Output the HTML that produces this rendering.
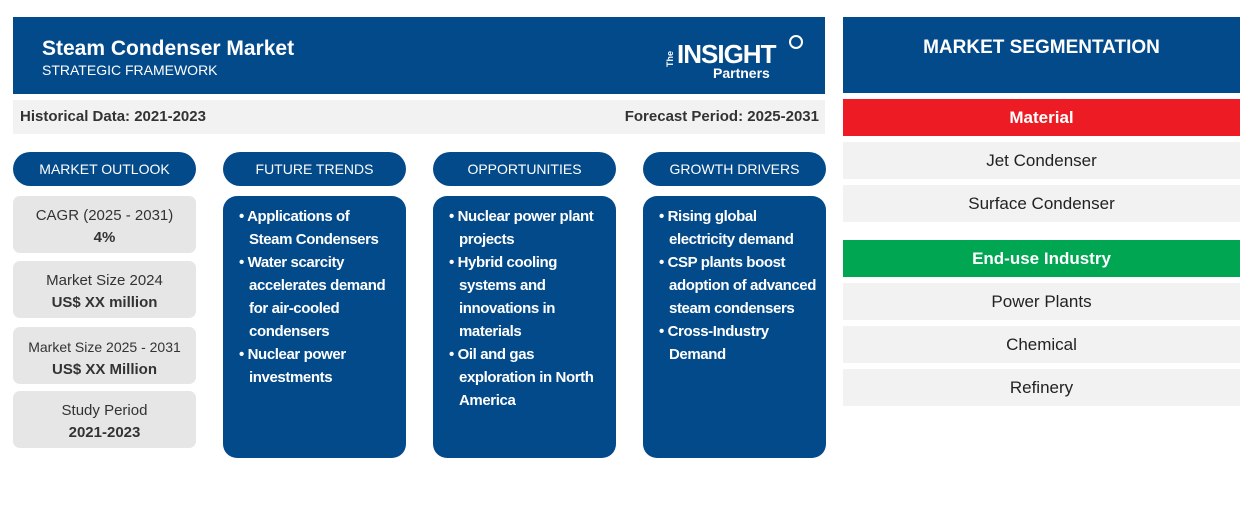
<!DOCTYPE html><html><head><style>
body{margin:0;width:1254px;height:530px;background:#fff;font-family:"Liberation Sans",sans-serif;position:relative;overflow:hidden}
div{position:absolute;box-sizing:border-box}
.blue{background:#034a8a;color:#fff}
.pill{height:34px;top:152px;width:183px;border-radius:17px;text-align:center;line-height:34px;font-size:14px}
.ob{left:13px;width:183px;height:57px;background:#e6e6e6;border-radius:7px;text-align:center;font-size:15px;color:#333;padding-top:9px;line-height:22px}
.ob b{font-size:15px}
.bb{top:196px;width:183px;height:262px;border-radius:14px;font-size:15px;font-weight:bold;letter-spacing:-0.4px;line-height:23px;padding:9px 8px 0 16px}
.bb ul{margin:0;padding:0 0 0 10px;list-style:none}
.bb li{text-indent:-10px}
.bb li:before{content:"• "}
.seg{left:843px;width:397px;height:37px;text-align:center;line-height:37px;font-size:17px;color:#222;background:#f2f2f2}
</style></head><body>
<div class="blue" style="left:13px;top:17px;width:812px;height:77px">
<div style="left:29px;top:20px;font-size:21px;font-weight:bold">Steam Condenser Market</div>
<div style="left:29px;top:45px;font-size:14px">STRATEGIC FRAMEWORK</div>
<div style="left:652px;top:20px;width:140px;height:45px">
<div style="left:0;font-size:9px;font-weight:bold;transform:rotate(-90deg);transform-origin:left top;top:30px">The</div>
<div style="left:12px;top:2px;font-size:26px;font-weight:bold;letter-spacing:-1px">INSIGHT</div>
<div style="left:124px;top:-2px;width:14px;height:14px;border:2px solid #fff;border-radius:50%"></div>
<div style="left:48px;top:28px;font-size:14px;font-weight:bold">Partners</div>
</div></div>
<div style="left:13px;top:100px;width:812px;height:34px;background:#f2f2f2;font-size:15px;font-weight:bold;color:#333;line-height:34px">
<span style="position:absolute;left:7px">Historical Data: 2021-2023</span><span style="position:absolute;right:6px">Forecast Period: 2025-2031</span></div>
<div class="pill blue" style="left:13px">MARKET OUTLOOK</div>
<div class="pill blue" style="left:223px">FUTURE TRENDS</div>
<div class="pill blue" style="left:433px">OPPORTUNITIES</div>
<div class="pill blue" style="left:643px">GROWTH DRIVERS</div>
<div class="ob" style="top:196px">CAGR (2025 - 2031)<br><b>4%</b></div>
<div class="ob" style="top:261px">Market Size 2024<br><b>US$ XX million</b></div>
<div class="ob" style="top:327px;font-size:14px">Market Size 2025 - 2031<br><b>US$ XX Million</b></div>
<div class="ob" style="top:391px">Study Period<br><b>2021-2023</b></div>
<div class="bb blue" style="left:223px"><ul><li>Applications of<br>Steam Condensers</li><li>Water scarcity accelerates demand for air-cooled condensers</li><li>Nuclear power investments</li></ul></div>
<div class="bb blue" style="left:433px"><ul><li>Nuclear power plant projects</li><li>Hybrid cooling systems and innovations in materials</li><li>Oil and gas exploration in North America</li></ul></div>
<div class="bb blue" style="left:643px"><ul><li>Rising global electricity demand</li><li>CSP plants boost adoption of advanced steam condensers</li><li>Cross-Industry Demand</li></ul></div>
<div class="blue" style="left:843px;top:17px;width:397px;height:76px;text-align:center;font-size:19px;font-weight:bold;padding-top:20px">MARKET SEGMENTATION</div>
<div class="seg" style="top:99px;background:#ed1c24;color:#fff;font-weight:bold">Material</div>
<div class="seg" style="top:142px">Jet Condenser</div>
<div class="seg" style="top:185px">Surface Condenser</div>
<div class="seg" style="top:240px;background:#00a651;color:#fff;font-weight:bold">End-use Industry</div>
<div class="seg" style="top:283px">Power Plants</div>
<div class="seg" style="top:326px">Chemical</div>
<div class="seg" style="top:369px">Refinery</div>
</body></html>
